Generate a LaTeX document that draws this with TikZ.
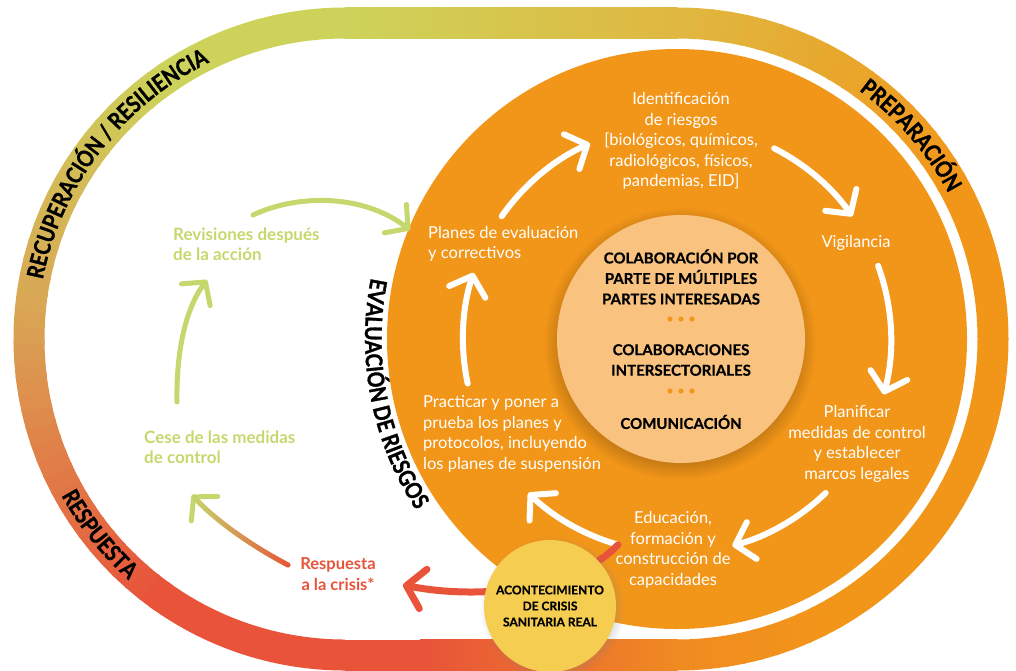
\documentclass[tikz,border=0pt]{standalone}
\usepackage{fontspec}
\setmainfont{Lato}
\newfontfamily\bandfont{Lato}[FakeStretch=0.85, BoldFeatures={FakeBold=1.2}]
\newfontfamily\heavyfont{Lato}[BoldFeatures={FakeBold=0.6}]
\usetikzlibrary{arrows.meta,decorations.text,shadows,fadings}

\definecolor{discorange}{HTML}{F29619}
\definecolor{peach}{HTML}{F9C37F}
\definecolor{crisisyellow}{HTML}{F5CD50}
\definecolor{leafgreen}{HTML}{C5D86D}
\definecolor{alertred}{HTML}{E8533A}
\definecolor{bandtan}{HTML}{D9A755}
\definecolor{bandlime}{HTML}{CDD35A}
\definecolor{bandgold}{HTML}{E0B740}
\definecolor{bandamber}{HTML}{F08A22}

\tikzset{
  band/.style={line width=31pt},
  warrow/.style={draw=white, line width=6pt, line cap=round, -{Straight Barb[round,length=17pt,width=38pt]}},
  garrow/.style={draw=leafgreen, line width=5pt, line cap=round, -{Straight Barb[round,length=16pt,width=36pt]}},
  rarrow/.style={draw=alertred, line width=7pt, line cap=round, -{Straight Barb[round,length=17pt,width=40pt]}},
  wtext/.style={text=white, inner sep=0pt, align=center, font=\fontsize{16.5}{20.5}\selectfont},
  btext/.style={inner sep=0pt, align=center, font=\heavyfont\bfseries\fontsize{15}{20.5}\selectfont},
  gtext/.style={text=leafgreen, inner sep=0pt, align=left, font=\bfseries\fontsize{17}{20.5}\selectfont},
  rtext/.style={text=alertred, inner sep=0pt, align=center, font=\bfseries\fontsize{16.5}{20.5}\selectfont},
  arclabel/.style={decorate, decoration={text along path, text align=center,
      text={|\bandfont\bfseries\fontsize{23}{23}\selectfont|#1}}}
}

\begin{document}
\begin{tikzpicture}[x=1pt, y=-1pt]
\useasboundingbox (0,0) rectangle (1016,670);
\coordinate (lc) at (345,339);
\coordinate (rc) at (677,339);

% outer track, coloured piece by piece
\draw[band, alertred] ([shift={(90:316)}]lc) arc[start angle=90, end angle=126, radius=316];
\foreach \a in {125,128,...,182} {
  \pgfmathtruncatemacro\p{100*(\a-125)/60}
  \draw[band, color=bandtan!\p!alertred] ([shift={(\a:316)}]lc) arc[start angle=\a, end angle=\a+3.6, radius=316];
}
\foreach \a in {185,188,...,233} {
  \pgfmathtruncatemacro\p{100*(\a-185)/50}
  \draw[band, color=bandlime!\p!bandtan] ([shift={(\a:316)}]lc) arc[start angle=\a, end angle=\a+3.6, radius=316];
}
\draw[band, bandlime] ([shift={(235:316)}]lc) arc[start angle=235, end angle=270.5, radius=316];
\shade[left color=bandlime, right color=bandgold] (344.5,7.5) rectangle (677.5,38.5);
\foreach \a in {270,273,...,327} {
  \pgfmathtruncatemacro\p{100*(\a-270)/60}
  \draw[band, color=discorange!\p!bandgold] ([shift={(\a:316)}]rc) arc[start angle=\a, end angle=\a+3.6, radius=316];
}
\draw[band, discorange] ([shift={(330:316)}]rc) arc[start angle=330, end angle=420.5, radius=316];
\foreach \a in {60,63,...,87} {
  \pgfmathtruncatemacro\p{100*(\a-60)/30}
  \draw[band, color=bandamber!\p!discorange] ([shift={(\a:316)}]rc) arc[start angle=\a, end angle=\a+3.6, radius=316];
}
\fill[alertred] (344.5,639.5) rectangle (420.5,670.5);
\shade[left color=alertred, right color=bandamber] (420,639.5) rectangle (677.5,670.5);

% big disc and hub
\fill[discorange] (rc) circle[radius=290];
\fill[peach, circular drop shadow={shadow xshift=-1pt, shadow yshift=-4pt, opacity=0.35, fill=black!60!discorange}] (681,339) circle[radius=124];
\foreach \y in {319,391}
  \foreach \x in {670,681,692}
    \fill[discorange] (\x,\y) circle[radius=2.6];

% white cycle
\draw[warrow] ([shift={(215:214)}]rc) arc[start angle=215, end angle=246, radius=214];
\draw[warrow] ([shift={(297:214)}]rc) arc[start angle=297, end angle=325, radius=214];
\draw[warrow] ([shift={(340:214)}]rc) arc[start angle=340, end angle=375, radius=214];
\draw[warrow] ([shift={(46:214)}]rc) arc[start angle=46, end angle=75, radius=214];
\draw[warrow] ([shift={(106:214)}]rc) arc[start angle=106, end angle=134, radius=214];
\draw[warrow] ([shift={(168:214)}]rc) arc[start angle=168, end angle=198, radius=214];

% green cycle
\coordinate (g1a) at (253,215);
\coordinate (g1b) at (410,230);
\coordinate (g2a) at (177,402);
\coordinate (g2b) at (207,280);
\coordinate (g3a) at (288,565);
\coordinate (g3b) at (192,495);
\draw[garrow] (g1a) .. controls (300,193) and (365,195) .. (g1b);
\draw[garrow] (g2a) .. controls (176,345) and (188,305) .. (g2b);
\draw[garrow] (g3a) .. controls (250,545) and (215,520) .. (g3b);
\draw[draw=alertred, line width=5pt, line cap=round, path fading=west] (g3a) .. controls (250,545) and (215,520) .. (g3b);

% crisis
\coordinate (r1a) at ([shift={(106:214)}]rc);
\coordinate (r1b) at (403,585);
\draw[rarrow] (r1a) .. controls (575,590) and (480,600) .. (r1b);
\node[circle, fill=crisisyellow, minimum size=132pt, inner sep=0pt, align=center,
  font=\heavyfont\bfseries\fontsize{12}{16}\selectfont,
  circular drop shadow={shadow xshift=2pt, shadow yshift=-2pt, opacity=0.25}] (crisis) at (550,606)
  {ACONTECIMIENTO\\DE CRISIS\\SANITARIA REAL};

% labels
\node[wtext] (ident) at (681,141) {Identificación\\de riesgos\\{[}biológicos, químicos,\\radiológicos, físicos,\\pandemias, EID{]}};
\node[wtext] (vigil) at (856,243) {Vigilancia};
\node[wtext] (planif) at (857,444) {Planificar\\medidas de control\\y establecer\\marcos legales};
\node[wtext] (educ) at (673,550) {Educación,\\formación y\\construcción de\\capacidades};
\node[wtext, anchor=west, align=left] (practica) at (423,434) {Practicar y poner a\\prueba los planes y\\protocolos, incluyendo\\los planes de suspensión};
\node[wtext, anchor=west, align=left] (planes) at (428,244) {Planes de evaluación\\y correctivos};
\node[btext] (multi) at (681,277) {COLABORACIÓN POR\\PARTE DE MÚLTIPLES\\PARTES INTERESADAS};
\node[btext] (inter) at (681,360) {COLABORACIONES\\INTERSECTORIALES};
\node[btext] (comun) at (681,422) {COMUNICACIÓN};
\node[gtext, anchor=west] (revis) at (173,244) {Revisiones después\\de la acción};
\node[gtext, anchor=west] (cese) at (144,447) {Cese de las medidas\\de control};
\node[rtext] (respu) at (338,574) {Respuesta\\a la crisis*};

% phase names along the track
\path[arclabel={RECUPERACIÓN / RESILIENCIA}] ([shift={(180:308)}]lc) arc[start angle=180, end angle=255, radius=308];
\path[arclabel={PREPARACIÓN}] ([shift={(290:308)}]rc) arc[start angle=290, end angle=348, radius=308];
\path[arclabel={RESPUESTA}] ([shift={(165:324)}]lc) arc[start angle=165, end angle=118, radius=324];
\path[arclabel={EVALUACIÓN DE RIESGOS}] ([shift={(205:312)}]rc) arc[start angle=205, end angle=133, radius=312];
\end{tikzpicture}
\end{document}
